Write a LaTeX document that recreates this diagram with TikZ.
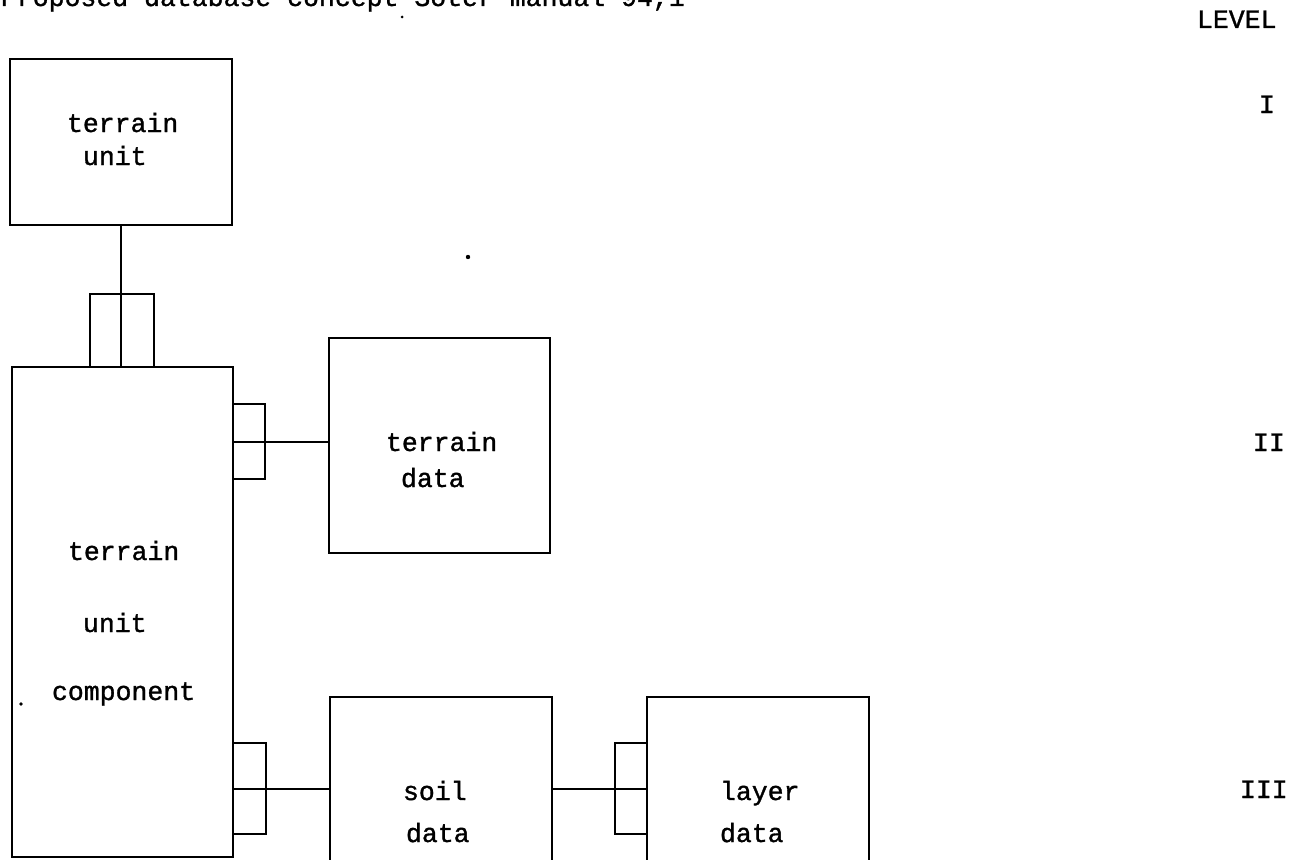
\documentclass[tikz,border=0pt]{standalone}
\usepackage{fontspec}
\newfontfamily\tw{Liberation Mono}[FakeBold=1.2]
\begin{document}
\begin{tikzpicture}[x=1pt,y=-1pt,line width=2pt,
  box/.style={draw,rectangle,inner sep=0pt},
  lbl/.style={font=\tw\fontsize{26.5}{30}\selectfont,inner sep=0pt,anchor=base west}]
\useasboundingbox (0,0) rectangle (1289,859);
\clip (0,0) rectangle (1289,859);
% header (cut off at the top)
\node[lbl] (hdr) at (0,6) {Proposed database concept Soter manual 94,1};
\node[lbl] (level) at (1196,28) {LEVEL};
\node[lbl] (l1) at (1258,113) {I};
\node[lbl] (l2) at (1252,451) {II};
\node[lbl] (l3) at (1239,798) {III};
% boxes
\node[box,minimum width=222pt,minimum height=166pt] (tu) at (121,142) {};
\node[box,minimum width=221pt,minimum height=490pt] (tuc) at (122.5,612) {};
\node[box,minimum width=221pt,minimum height=215pt] (td) at (439.5,445.5) {};
\node[box,minimum width=222pt,minimum height=183pt] (sd) at (441,788.5) {};
\node[box,minimum width=222pt,minimum height=183pt] (ld) at (758,788.5) {};
% connector ends
\node[box,minimum width=64pt,minimum height=73pt] (c1) at (122,330.5) {};
\node[box,minimum width=32pt,minimum height=75pt] (c2) at (249,441.5) {};
\node[box,minimum width=33pt,minimum height=91pt] (c3) at (249.5,788.5) {};
\node[box,minimum width=32pt,minimum height=91pt] (c4) at (631,788.5) {};
% connectors
\draw (tu.south) -- (tu.south |- tuc.north);
\draw (c2.center -| tuc.east) -- (c2.center -| td.west);
\draw (c3.center -| tuc.east) -- (sd.west);
\draw (sd.east) -- (ld.west);
% texts
\node[lbl] (t1) at (66,132) {terrain};
\node[lbl] (t2) at (82,165) {unit};
\node[lbl] (t3) at (67,560) {terrain};
\node[lbl] (t4) at (82,632) {unit};
\node[lbl] (t5) at (51,700) {component};
\node[lbl] (t6) at (385,451) {terrain};
\node[lbl] (t7) at (400,487) {data};
\node[lbl] (t8) at (402,800) {soil};
\node[lbl] (t9) at (405,842) {data};
\node[lbl] (t10) at (719,800) {layer};
\node[lbl] (t11) at (719,842) {data};
% stray dots
\fill (468,257) circle (2.2pt);
\fill (21,704) circle (1.8pt);
\fill (402,17) circle (1.5pt);
\end{tikzpicture}
\end{document}
